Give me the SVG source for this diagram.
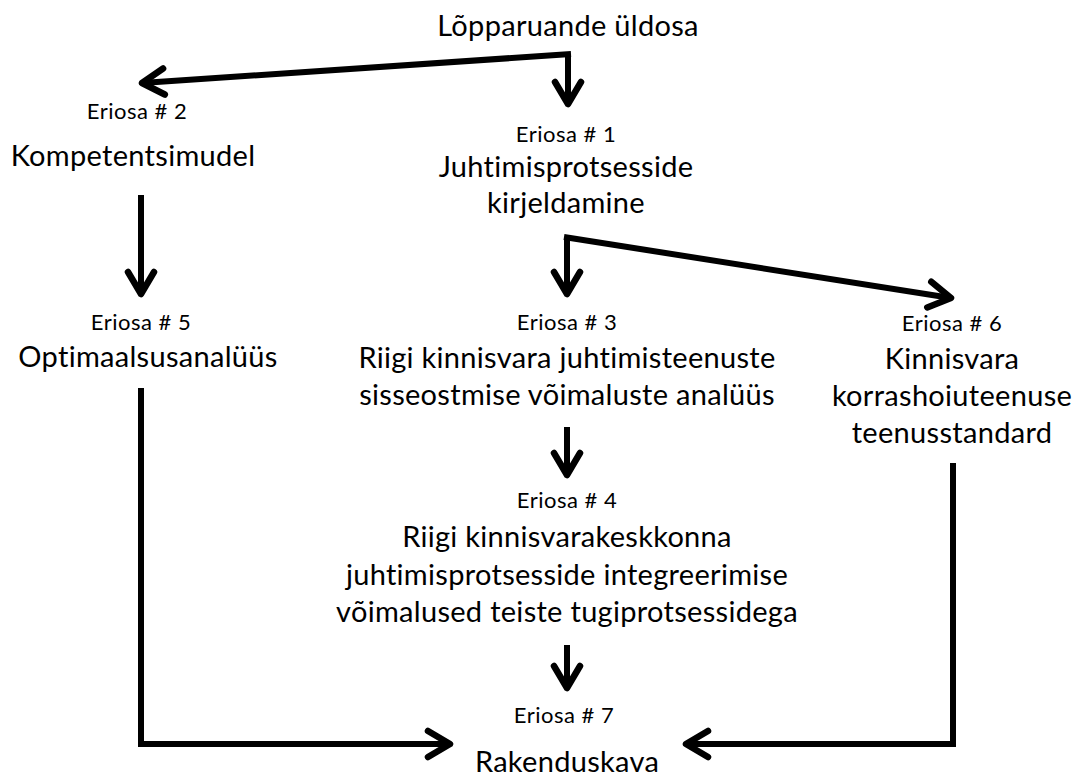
<svg xmlns="http://www.w3.org/2000/svg" width="1072" height="778" viewBox="0 0 1072 778">
<defs>
<style>
.t{font-family:Lato,"Open Sans","Liberation Sans",sans-serif;font-size:29px;fill:#000;text-anchor:middle;font-variant-ligatures:none;letter-spacing:0.3px}
.s{font-family:Lato,"Open Sans","Liberation Sans",sans-serif;font-size:22px;fill:#000;text-anchor:middle;letter-spacing:0.5px}
.c{fill:none;stroke:#000;stroke-width:6;stroke-linejoin:miter;stroke-linecap:butt}
</style>
<marker id="ah" viewBox="0 0 30 34" refX="26" refY="17" markerWidth="30" markerHeight="34" markerUnits="userSpaceOnUse" orient="auto">
<path d="M4,4 L26,17 L4,30" fill="none" stroke="#000" stroke-width="6.5" stroke-linecap="round" stroke-linejoin="round"/>
</marker>
</defs>
<rect width="1072" height="778" fill="#fff"/>
<g id="connectors">
<path class="c" d="M568,54 L568,104" marker-end="url(#ah)"/>
<path class="c" d="M571,54 L142,83" marker-end="url(#ah)"/>
<path class="c" d="M141,195 L141,294" marker-end="url(#ah)"/>
<path class="c" d="M567,240 L567,294" marker-end="url(#ah)"/>
<path class="c" d="M564,237 L951,298" marker-end="url(#ah)"/>
<path class="c" d="M567,427 L567,475" marker-end="url(#ah)"/>
<path class="c" d="M567,645 L567,688" marker-end="url(#ah)"/>
<path class="c" d="M141,388 L141,744 L450,744" marker-end="url(#ah)"/>
<path class="c" d="M953,463 L953,744 L686,744" marker-end="url(#ah)"/>
</g>
<g id="n0"><text class="t" x="568" y="36">Lõpparuande üldosa</text></g>
<g id="n2"><text class="s" x="137" y="119">Eriosa # 2</text><text class="t" x="133" y="166">Kompetentsimudel</text></g>
<g id="n1"><text class="s" x="566" y="142">Eriosa # 1</text><text class="t" x="566" y="177">Juhtimisprotsesside</text><text class="t" x="566" y="213">kirjeldamine</text></g>
<g id="n5"><text class="s" x="141" y="330">Eriosa # 5</text><text class="t" x="148" y="367">Optimaalsusanalüüs</text></g>
<g id="n3"><text class="s" x="567" y="330">Eriosa # 3</text><text class="t" x="567" y="368">Riigi kinnisvara juhtimisteenuste</text><text class="t" x="567" y="405">sisseostmise võimaluste analüüs</text></g>
<g id="n6"><text class="s" x="952" y="331">Eriosa # 6</text><text class="t" x="952" y="369">Kinnisvara</text><text class="t" x="952" y="406">korrashoiuteenuse</text><text class="t" x="952" y="443">teenusstandard</text></g>
<g id="n4"><text class="s" x="567" y="508">Eriosa # 4</text><text class="t" x="567" y="547">Riigi kinnisvarakeskkonna</text><text class="t" x="567" y="585">juhtimisprotsesside integreerimise</text><text class="t" x="567" y="622">võimalused teiste tugiprotsessidega</text></g>
<g id="n7"><text class="s" x="564" y="723">Eriosa # 7</text><text class="t" x="567" y="772">Rakenduskava</text></g>
</svg>
